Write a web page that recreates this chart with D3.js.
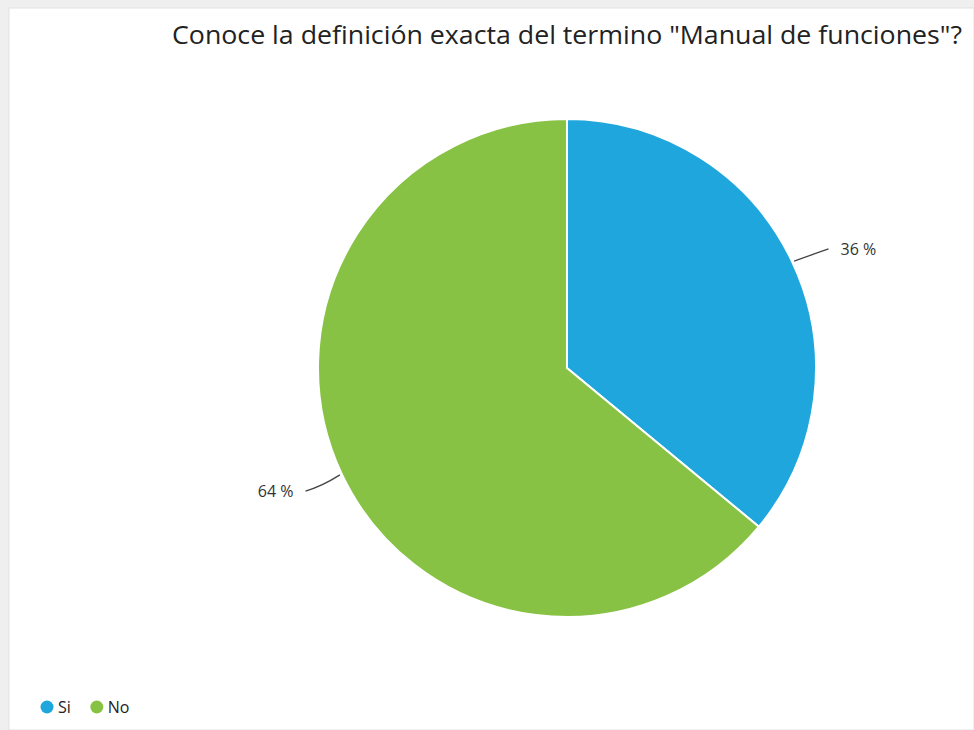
<!DOCTYPE html>
<html>
<head>
<meta charset="utf-8">
<script src="https://cdn.jsdelivr.net/npm/d3@7"></script>
<style>
  html, body { margin: 0; padding: 0; background: #efefef; }
  svg { display: block; }
</style>
</head>
<body>
<svg id="chart" width="974" height="730"></svg>
<script>
// Survey answers
const categories = ["Si", "No"];
const values = [36, 64];
const colors = ["#1fa7dd", "#88c244"];
const title = "Conoce la definición exacta del termino \"Manual de funciones\"?";

const svg = d3.select("#chart");
const W = 974, H = 730;

// panel
svg.append("rect").attr("x", 0).attr("y", 0).attr("width", W).attr("height", H).attr("fill", "#efefef");
svg.append("rect").attr("x", 9).attr("y", 8).attr("width", W - 9).attr("height", H - 8)
  .attr("fill", "#ffffff").attr("stroke", "#e2e2e2").attr("stroke-width", 1);

svg.append("text")
  .attr("x", 567).attr("y", 44)
  .attr("text-anchor", "middle")
  .attr("font-family", "'Open Sans', sans-serif")
  .attr("font-size", 25)
  .attr("fill", "#222")
  .attr("textLength", 790)
  .attr("lengthAdjust", "spacingAndGlyphs")
  .text(title);

const cx = 567, cy = 368, R = 249;
const g = svg.append("g").attr("transform", `translate(${cx},${cy})`);

const pie = d3.pie().sort(null).value(d => d.v);
const data = pie(categories.map((c, i) => ({ c, v: values[i], color: colors[i] })));
const arc = d3.arc().innerRadius(0).outerRadius(R);

g.selectAll("path.slice").data(data).join("path")
  .attr("class", "slice")
  .attr("d", arc)
  .attr("fill", d => d.data.color)
  .attr("stroke", "#ffffff")
  .attr("stroke-width", 2);

// connectors + value labels
data.forEach(d => {
  const a = (d.startAngle + d.endAngle) / 2;
  const sx = Math.sin(a), sy = -Math.cos(a);
  const side = sx >= 0 ? 1 : -1;
  const p0 = [sx * (R + 2), sy * (R + 2)];
  const p2 = [sx * (R + 40), sy * (R + 40) + (side > 0 ? 4 : 0)];
  const p1 = [sx * (R + 22), sy * (R + 22) + (side > 0 ? 2 : 3)];
  g.append("path")
    .attr("d", `M${p0[0]},${p0[1]} Q${p1[0]},${p1[1]} ${p2[0]},${p2[1]}`)
    .attr("fill", "none").attr("stroke", "#444").attr("stroke-width", 1.3);
  g.append("text")
    .attr("x", p2[0] + side * 12).attr("y", p2[1] + 6)
    .attr("text-anchor", side > 0 ? "start" : "end")
    .attr("font-family", "'Open Sans', sans-serif")
    .attr("font-size", 16)
    .attr("fill", "#333")
    .text(d.data.v + " %");
});

// legend
const leg = svg.append("g").attr("transform", "translate(47,707)");
let lx = 0;
categories.forEach((c, i) => {
  const item = leg.append("g").attr("transform", `translate(${lx},0)`);
  item.append("circle").attr("r", 6.5).attr("fill", colors[i]);
  const t = item.append("text").attr("x", 11).attr("y", 6)
    .attr("font-family", "'Open Sans', sans-serif").attr("font-size", 16).attr("fill", "#222").text(c);
  lx += 11 + t.node().getComputedTextLength() + 26;
});
</script>
</body>
</html>
